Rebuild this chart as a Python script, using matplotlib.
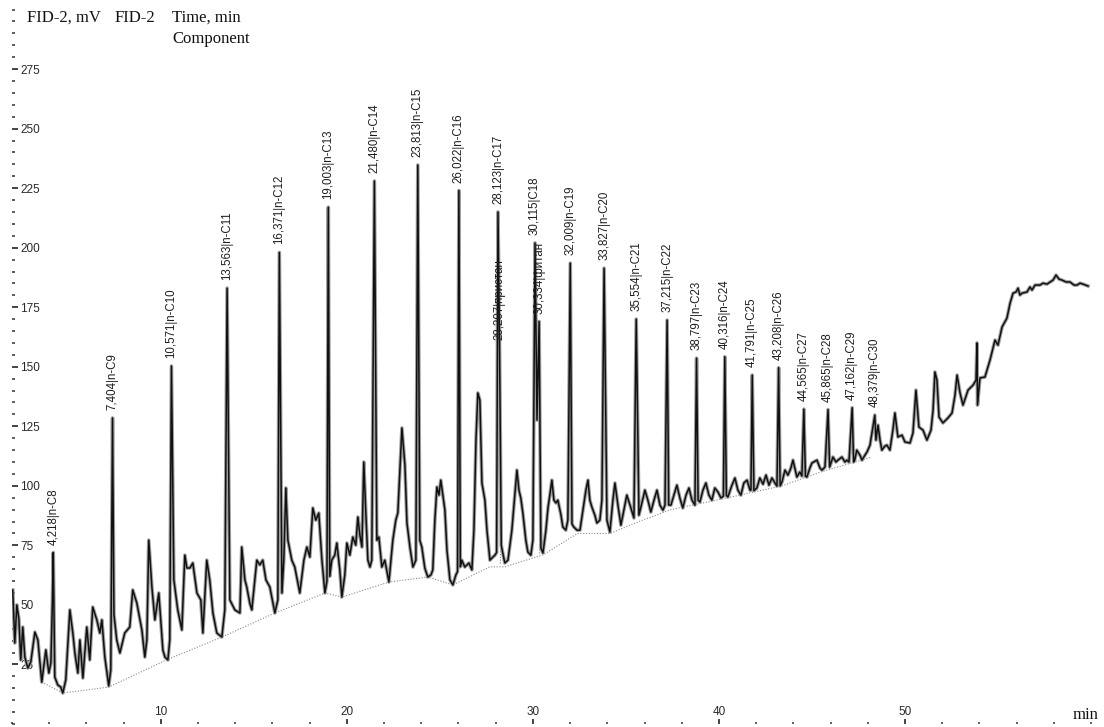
import numpy as np
import matplotlib
matplotlib.use("Agg")
import matplotlib.pyplot as plt
from matplotlib.ticker import FixedLocator, MultipleLocator

# ---------------- data ----------------
peak_time = [4.218, 7.404, 10.571, 13.563, 16.371, 19.003, 21.480, 23.813, 26.022,
             28.123, 28.207, 30.115, 30.334, 32.009, 33.827, 35.554, 37.215, 38.797,
             40.316, 41.791, 43.208, 44.565, 45.865, 47.162, 48.379]
peak_mv = [72, 128.5, 150.3, 183, 198, 217, 228, 234.7, 224,
           215, 158, 202, 169, 193.5, 191.4, 170, 169.6, 153.6,
           154.2, 146.5, 149.6, 132.2, 132, 132.8, 129.7]
peak_names = ["n-C8", "n-C9", "n-C10", "n-C11", "n-C12", "n-C13", "n-C14", "n-C15", "n-C16",
              "n-C17", "пристан", "C18", "фитан", "n-C19", "n-C20", "n-C21", "n-C22", "n-C23",
              "n-C24", "n-C25", "n-C26", "n-C27", "n-C28", "n-C29", "n-C30"]
peak_time_text = ["4,218", "7,404", "10,571", "13,563", "16,371", "19,003", "21,480", "23,813",
                  "26,022", "28,123", "28,207", "30,115", "30,334", "32,009", "33,827", "35,554",
                  "37,215", "38,797", "40,316", "41,791", "43,208", "44,565", "45,865", "47,162",
                  "48,379"]

# background trace (valleys, small peaks, drift), time in min / signal in mV
bg_time = [2.04, 2.15, 2.26, 2.37, 2.47, 2.58, 2.69, 2.85, 3.01, 3.23, 3.39, 3.60, 3.82, 3.98,
           4.09, 4.17, 4.30, 4.46, 4.62, 4.73, 4.89, 5.11, 5.27, 5.38, 5.54, 5.65, 5.81, 6.02,
           6.18, 6.34, 6.56, 6.72, 6.83, 6.99, 7.20, 7.31, 7.48, 7.63, 7.80, 8.06, 8.33, 8.49,
           8.71, 8.98, 9.14, 9.25, 9.35, 9.52, 9.68, 9.89, 10.11, 10.22, 10.38, 10.48, 10.70,
           10.91, 11.13, 11.29, 11.40, 11.56, 11.72, 11.94, 12.15, 12.26, 12.47, 12.63, 12.80,
           13.01, 13.28, 13.44, 13.71, 13.98, 14.25, 14.35, 14.52, 14.62, 14.78, 14.89, 15.16,
           15.32, 15.48, 15.65, 15.86, 16.13, 16.29, 16.51, 16.61, 16.72, 16.83, 17.04, 17.20,
           17.47, 17.69, 17.85, 18.01, 18.17, 18.33, 18.49, 18.66, 18.82, 18.93, 19.08, 19.19,
           19.35, 19.46, 19.62, 19.73, 19.89, 20.00, 20.16, 20.32, 20.48, 20.59, 20.70, 20.81,
           20.91, 21.02, 21.13, 21.24, 21.34, 21.61, 21.72, 21.88, 22.04, 22.26, 22.47, 22.63,
           22.74, 22.96, 23.12, 23.23, 23.39, 23.55, 23.71, 23.92, 24.03, 24.19, 24.35, 24.52,
           24.62, 24.73, 24.84, 24.95, 25.05, 25.27, 25.38, 25.54, 25.70, 25.86, 25.95, 26.10,
           26.18, 26.34, 26.56, 26.72, 26.83, 26.94, 27.04, 27.15, 27.26, 27.42, 27.53, 27.69,
           27.80, 27.96, 28.05, 28.30, 28.49, 28.66, 28.87, 29.03, 29.14, 29.25, 29.35, 29.46,
           29.62, 29.73, 29.89, 30.00, 30.22, 30.43, 30.54, 30.70, 30.81, 30.91, 31.02, 31.13,
           31.24, 31.34, 31.51, 31.61, 31.77, 31.88, 32.10, 32.20, 32.37, 32.53, 32.69, 32.85,
           32.96, 33.06, 33.17, 33.33, 33.44, 33.60, 33.71, 33.98, 34.14, 34.30, 34.41, 34.57,
           34.73, 34.89, 35.05, 35.22, 35.43, 35.70, 35.86, 36.02, 36.18, 36.34, 36.51, 36.67,
           36.83, 36.99, 37.10, 37.30, 37.42, 37.58, 37.74, 37.90, 38.06, 38.23, 38.39, 38.55,
           38.71, 38.88, 38.98, 39.14, 39.30, 39.46, 39.62, 39.78, 39.95, 40.11, 40.24, 40.40,
           40.48, 40.70, 40.86, 41.02, 41.18, 41.34, 41.51, 41.67, 41.72, 41.88, 42.04, 42.20,
           42.37, 42.53, 42.69, 42.85, 43.01, 43.12, 43.29, 43.39, 43.55, 43.71, 43.87, 43.98,
           44.19, 44.35, 44.46, 44.65, 44.73, 44.89, 45.00, 45.27, 45.43, 45.54, 45.70, 45.95,
           46.13, 46.29, 46.40, 46.61, 46.77, 46.88, 46.99, 47.24, 47.30, 47.41, 47.58, 47.69,
           47.85, 47.96, 48.12, 48.44, 48.55, 48.66, 48.76, 48.92, 49.03, 49.19, 49.35, 49.46,
           49.62, 49.84, 50.00, 50.27, 50.43, 50.59, 50.75, 50.97, 51.18, 51.40, 51.51, 51.61,
           51.72, 51.83, 52.04, 52.31, 52.53, 52.69, 52.80, 52.96, 53.12, 53.39, 53.66, 53.82,
           53.87, 53.90, 54.03, 54.30, 54.57, 54.84, 55.00, 55.22, 55.48, 55.65, 55.81, 55.97,
           56.08, 56.18, 56.29, 56.56, 56.72, 56.83, 56.99, 57.26, 57.42, 57.63, 57.80, 57.96,
           58.12, 58.28, 58.44, 58.66, 58.87, 59.09, 59.25, 59.41, 59.57, 59.84]
bg_mv = [56.3, 34.0, 50.0, 44.1, 26.9, 40.7, 28.1, 23.5, 26.0, 38.6, 35.3, 17.6, 31.1, 21.4,
         25.6, 50.8, 19.7, 16.4, 15.5, 13.0, 18.5, 47.9, 38.2, 29.8, 21.4, 35.3, 19.3, 40.7,
         26.9, 49.1, 43.7, 38.2, 43.7, 28.1, 16.0, 22.7, 46.0, 35.3, 29.8, 38.2, 40.7, 56.3,
         50.8, 39.5, 28.1, 35.3, 77.2, 57.5, 43.7, 55.0, 31.1, 28.1, 26.9, 35.3, 60.5,
         47.9, 39.5, 70.9, 65.5, 65.5, 67.6, 55.0, 52.1, 38.2, 68.8, 60.5, 46.6,
         38.2, 36.5, 47.9, 52.1, 47.9, 46.6, 74.3, 60.5, 57.5, 50.8, 47.9, 68.8,
         66.8, 68.8, 60.5, 57.5, 46.6, 52.1, 55.0, 68.8, 99.1, 77.2, 68.8, 65.9,
         55.0, 68.8, 74.3, 70.1, 90.7, 85.6, 88.6, 68.8, 55.0, 60.0, 62.0, 68.8,
         70.9, 76.0, 64.7, 53.3, 62.6, 76.0, 70.9, 78.5, 75.1, 86.9, 79.3, 74.3,
         110.0, 88.6, 68.8, 65.9, 68.8, 77.2, 78.5, 65.9, 68.8, 59.6, 77.2, 85.6,
         88.6, 124.3, 108.7, 84.4, 74.3, 65.9, 68.8, 77.2, 74.3, 65.5, 61.7, 62.6,
         64.7, 85.6, 99.5, 96.1, 102.4, 89.8, 73.0, 60.5, 58.4, 62.6, 64.0, 66.0,
         68.8, 65.9, 67.6, 64.7, 81.4, 119.2, 139.0, 136.0, 101.2, 94.0, 81.4, 68.8,
         69.7, 70.9, 72.0, 75.0, 67.6, 68.8, 81.4, 96.1, 106.6, 98.2, 94.9, 88.6,
         77.2, 72.2, 70.9, 77.2, 127.6, 73.9, 71.8, 81.4, 90.7, 96.1, 102.4, 94.0,
         92.8, 94.0, 87.7, 82.7, 81.4, 85.6, 84.0, 82.7, 81.4, 81.4, 89.8, 98.2,
         102.4, 94.0, 91.1, 87.7, 84.4, 85.6, 94.0, 85.6, 80.6, 94.0, 101.2, 91.9,
         83.5, 89.8, 96.1, 91.9, 86.5, 87.7, 92.8, 98.2, 94.0, 89.0, 94.0, 98.2,
         91.9, 89.8, 91.9, 92.0, 91.9, 96.1, 100.3, 94.9, 90.7, 96.1, 99.1, 94.0,
         91.9, 94.0, 93.2, 98.2, 101.2, 96.1, 94.0, 99.1, 97.4, 94.9, 95.7, 96.0,
         95.3, 100.3, 103.3, 98.2, 96.1, 101.2, 102.4, 98.2, 98.2, 98.0, 99.1, 103.3,
         100.7, 104.5, 100.3, 103.3, 101.2, 99.9, 100.0, 101.6, 106.6, 104.5, 107.5, 110.8,
         103.7, 105.8, 104.1, 104.0, 103.7, 107.5, 109.6, 110.8, 107.5, 106.6, 107.9, 107.9,
         112.1, 110.0, 110.8, 112.1, 110.0, 110.8, 110.0, 110.0, 110.8, 115.0, 112.9, 110.8,
         112.9, 114.2, 117.1, 119.2, 125.5, 119.2, 115.0, 116.7, 117.1, 115.0, 123.4, 130.6,
         120.5, 121.3, 118.4, 118.0, 122.2, 140.2, 124.7, 123.4, 119.2, 123.4, 131.8, 147.8,
         144.4, 128.9, 126.4, 128.5, 130.6, 138.1, 146.5, 139.0, 133.9, 140.2, 142.3, 144.4,
         160.0, 133.9, 145.3, 145.7, 152.8, 161.2, 159.1, 166.7, 170.4, 176.7, 180.9, 181.4,
         183.0, 180.1, 180.9, 181.4, 183.5, 182.2, 184.3, 184.3, 185.1, 184.7, 185.6, 186.4,
         188.5, 186.8, 186.4, 185.6, 185.6, 184.3, 184.3, 185.1, 184.7, 183.9]

# integration baseline (dotted) under the peaks
base_time = [3.60, 4.73, 7.20, 10.30, 13.28, 16.13, 18.82, 19.73, 22.26, 24.35, 25.70,
             27.69, 28.49, 30.54, 32.40, 34.14, 35.70, 37.42, 40.48, 43.39, 45.54, 48.20]
base_mv = [17.6, 13.0, 15.5, 26.9, 36.5, 46.6, 55.0, 53.3, 59.6, 61.7, 58.4,
           66.0, 66.0, 71.0, 80.0, 80.0, 85.0, 90.0, 95.0, 100.0, 106.0, 112.0]
# dotted drop lines at the pristane / phytane splits: (time, bottom mV, top mV)
drop_time = [28.207, 30.334]
drop_low = [67.5, 72.0]
drop_high = [147.0, 144.0]

x_major = [10, 20, 30, 40, 50]
y_major = [25, 50, 75, 100, 125, 150, 175, 200, 225, 250, 275]

# ---------------- figure ----------------
W, H = 1104, 727
fig = plt.figure(figsize=(W / 100, H / 100), dpi=100)
ax = fig.add_axes([12 / W, 3 / H, 1079 / W, 724 / H])
ax.set_xlim(2, 60)
ax.set_ylim(0, 304)

t_all = np.concatenate([np.array(bg_time), np.array(peak_time)])
v_all = np.concatenate([np.array(bg_mv), np.array(peak_mv)])
order = np.argsort(t_all, kind="stable")
t_all, v_all = t_all[order], v_all[order]

ax.plot(base_time, base_mv, color="#8a8a8a", lw=0.8, ls=(0, (1, 1.5)), zorder=1)
for dt, lo, hi in zip(drop_time, drop_low, drop_high):
    ax.plot([dt, dt], [lo, hi], color="#8a8a8a", lw=0.8, ls=(0, (1, 1.5)), zorder=1)
ax.plot(t_all, v_all, color="#a0a0a0", lw=2.6, zorder=2)
ax.plot(t_all, v_all, color="#111111", lw=1.1, zorder=3)

lab_font = dict(family=["Liberation Sans", "DejaVu Sans"], size=8.3, color="#1e1e1e")
for tt, vv, tx, nm in zip(peak_time, peak_mv, peak_time_text, peak_names):
    ax.annotate(f"{tx}|{nm}", xy=(tt, vv), xytext=(0, 8), textcoords="offset pixels",
                rotation=90, ha="center", va="bottom", zorder=4, **lab_font)

for s in ax.spines.values():
    s.set_visible(False)

ax.xaxis.set_major_locator(FixedLocator(x_major))
ax.xaxis.set_minor_locator(MultipleLocator(2))
ax.yaxis.set_major_locator(FixedLocator(y_major))
ax.yaxis.set_minor_locator(MultipleLocator(5))
ax.set_xticklabels([str(v) for v in x_major])
ax.set_yticklabels([str(v) for v in y_major])

ax.tick_params(axis="y", which="major", direction="in", length=4, width=1.1,
               color="#111111", pad=-6, labelsize=8.5, labelcolor="#2a2a2a")
ax.tick_params(axis="y", which="minor", direction="in", length=2, width=1.1, color="#333333")
ax.tick_params(axis="x", which="major", direction="in", length=3.5, width=1.1,
               color="#111111", pad=-13, labelsize=8.5, labelcolor="#2a2a2a")
ax.tick_params(axis="x", which="minor", direction="in", length=1.5, width=1.1, color="#333333")
for lab in ax.get_yticklabels():
    lab.set_horizontalalignment("left")
    lab.set_fontfamily("Liberation Sans")
for lab in ax.get_xticklabels():
    lab.set_fontfamily("Liberation Sans")

hdr = dict(family="Liberation Serif", size=12, color="#111111", va="baseline", ha="left")
fig.text(27 / W, 1 - 22 / H, "FID-2, mV", **hdr)
fig.text(115 / W, 1 - 22 / H, "FID-2", **hdr)
fig.text(172 / W, 1 - 22 / H, "Time, min", **hdr)
fig.text(172 / W, 1 - 43 / H, "Component", **hdr)
fig.text(1073 / W, 1 - 719 / H, "min", **hdr)

fig.savefig("out.png", dpi=100)
